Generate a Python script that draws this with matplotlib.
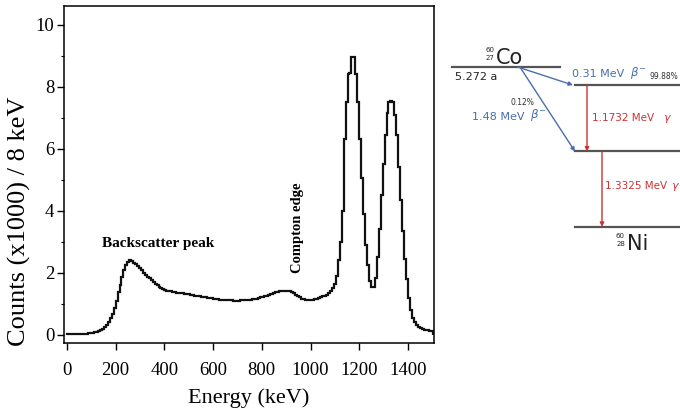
import numpy as np
import matplotlib
matplotlib.use('Agg')
import matplotlib.pyplot as plt

# Co-60 gamma spectrum, 8 keV bins starting at 0 keV (counts in thousands)
bin_width = 8
counts = [
    0.02, 0.02, 0.02, 0.02, 0.02, 0.03, 0.03, 0.03, 0.03, 0.04, 0.04, 0.05, 0.06, 0.07, 0.08, 0.10,
    0.12, 0.15, 0.19, 0.25, 0.32, 0.42, 0.53, 0.68, 0.88, 1.10, 1.38, 1.62, 1.86, 2.08, 2.25, 2.36,
    2.40, 2.38, 2.33, 2.28, 2.22, 2.16, 2.08, 2.01, 1.94, 1.88, 1.82, 1.76, 1.70, 1.65, 1.60, 1.56,
    1.52, 1.49, 1.46, 1.43, 1.41, 1.40, 1.38, 1.37, 1.36, 1.35, 1.34, 1.34, 1.33, 1.32, 1.31, 1.30,
    1.29, 1.27, 1.26, 1.25, 1.24, 1.23, 1.22, 1.21, 1.20, 1.19, 1.18, 1.17, 1.16, 1.15, 1.14, 1.14,
    1.13, 1.12, 1.12, 1.11, 1.11, 1.10, 1.10, 1.10, 1.10, 1.11, 1.11, 1.12, 1.12, 1.13, 1.14, 1.15,
    1.16, 1.17, 1.19, 1.21, 1.23, 1.25, 1.27, 1.29, 1.31, 1.33, 1.35, 1.37, 1.38, 1.40, 1.41, 1.42,
    1.43, 1.43, 1.42, 1.39, 1.35, 1.30, 1.25, 1.21, 1.17, 1.15, 1.13, 1.13, 1.13, 1.13, 1.14, 1.15,
    1.17, 1.19, 1.21, 1.24, 1.27, 1.30, 1.35, 1.40, 1.50, 1.65, 1.90, 2.40, 3.00, 4.00, 6.30, 7.50,
    8.40, 8.45, 8.95, 8.97, 8.40, 7.50, 6.30, 5.05, 3.90, 2.90, 2.25, 1.75, 1.55, 1.55, 1.85, 2.50,
    3.40, 4.50, 5.50, 6.45, 7.15, 7.50, 7.55, 7.50, 7.10, 6.45, 5.40, 4.35, 3.35, 2.45, 1.80, 1.20,
    0.80, 0.55, 0.42, 0.33, 0.27, 0.22, 0.19, 0.17, 0.16, 0.15, 0.14, 0.13,
]
x_ticks = [0, 200, 400, 600, 800, 1000, 1200, 1400]
y_ticks = [0, 2, 4, 6, 8, 10]

# decay scheme (MeV)
co_level = 2.8239
ni_levels = [2.5057, 1.3325, 0.0]
half_life = '5.272 a'
beta_labels = ['0.31 MeV', '1.48 MeV']
beta_branch = ['99.88%', '0.12%']
gamma_labels = ['1.1732 MeV', '1.3325 MeV']

serif = 'Liberation Serif'
blue = '#4a6eab'
red = '#cc3333'
level_col = '#555555'
ink = '#222222'

fig = plt.figure(figsize=(6.8, 4.13), dpi=100)

# --- spectrum ---
ax = fig.add_axes([64/680, 70/413, 370/680, 337/413])
edges = np.arange(len(counts) + 1) * bin_width
ax.stairs(counts, edges, color='#111111', lw=1.6)
ax.set_xlim(-12, 1507)
ax.set_ylim(-0.26, 10.6)
ax.set_xticks(x_ticks)
ax.set_yticks(y_ticks)
ax.set_yticks(np.arange(1, 10, 2), minor=True)
ax.tick_params(direction='out', length=5, width=1, labelsize=13.5)
ax.tick_params(axis='x', pad=9)
ax.tick_params(axis='y', pad=2)
ax.tick_params(which='minor', direction='out', length=2.5, width=0.8)
for lab in ax.get_xticklabels() + ax.get_yticklabels():
    lab.set_family(serif)
for s in ax.spines.values():
    s.set_linewidth(1.1)
ax.set_xlabel('Energy (keV)', family=serif, fontsize=16, labelpad=6)
ax.set_ylabel('Counts (x1000) / 8 keV', family=serif, fontsize=19)
ax.yaxis.set_label_coords(-0.088, 0.36)
ax.text(145, 2.95, 'Backscatter peak', family=serif, fontsize=11, fontweight='bold',
        ha='left', va='center')
ax.text(945, 3.45, 'Compton edge', family=serif, fontsize=10.5, fontweight='bold',
        rotation=90, ha='center', va='center')

# --- decay scheme ---
ax2 = fig.add_axes([440/680, 0, 240/680, 1])
ax2.set_xlim(0, 240)
ax2.set_ylim(-3.29, 4.01)
ax2.axis('off')

ax2.plot([12, 120], [co_level, co_level], color=level_col, lw=1.6)
for lv in ni_levels:
    ax2.plot([135, 245], [lv, lv], color=level_col, lw=1.6, clip_on=False)

arrow_kw = dict(arrowstyle='-|>', lw=1.0, mutation_scale=6, shrinkA=0, shrinkB=0)
ax2.annotate('', xy=(133, ni_levels[0]), xytext=(78, co_level),
             arrowprops=dict(color=blue, **arrow_kw))
ax2.annotate('', xy=(135, ni_levels[1]), xytext=(80, co_level),
             arrowprops=dict(color=blue, **arrow_kw))
ax2.annotate('', xy=(147, ni_levels[1]), xytext=(147, ni_levels[0]),
             arrowprops=dict(color=red, **arrow_kw))
ax2.annotate('', xy=(162, ni_levels[2]), xytext=(162, ni_levels[1]),
             arrowprops=dict(color=red, **arrow_kw))

# nuclide labels: mass / atomic number stacked left of the symbol
ax2.text(56, co_level + 0.06, 'Co', fontsize=15, ha='left', va='baseline', color=ink)
ax2.text(54, 3.12, '60', fontsize=5, ha='right', va='center', color=ink)
ax2.text(54, 2.99, '27', fontsize=5, ha='right', va='center', color=ink)
ax2.text(187, -0.41, 'Ni', fontsize=15, ha='left', va='baseline', color=ink)
ax2.text(185, -0.17, '60', fontsize=5, ha='right', va='center', color=ink)
ax2.text(185, -0.31, '28', fontsize=5, ha='right', va='center', color=ink)
ax2.text(15, co_level - 0.17, half_life, fontsize=8, ha='left', va='center', color=ink)

ax2.text(132, co_level - 0.13, beta_labels[0], fontsize=8, ha='left', va='center', color=blue)
ax2.text(190, co_level - 0.11, r'$\beta^{-}$', fontsize=8.5, ha='left', va='center', color=blue)
ax2.text(209, co_level - 0.16, beta_branch[0], fontsize=5.5, ha='left', va='center',
         color='#333333')
ax2.text(82, 2.19, beta_branch[1], fontsize=5.5, ha='center', va='center', color='#333333')
ax2.text(32, 1.94, beta_labels[1], fontsize=8, ha='left', va='center', color=blue)
ax2.text(90, 1.97, r'$\beta^{-}$', fontsize=8.5, ha='left', va='center', color=blue)

ax2.text(152, 1.93, gamma_labels[0], fontsize=7.5, ha='left', va='center', color=red)
ax2.text(223, 1.91, r'$\gamma$', fontsize=8, ha='left', va='center', color=red)
ax2.text(165, 0.72, gamma_labels[1], fontsize=7.5, ha='left', va='center', color=red)
ax2.text(231, 0.70, r'$\gamma$', fontsize=8, ha='left', va='center', color=red)

fig.savefig('out.png', dpi=100)
